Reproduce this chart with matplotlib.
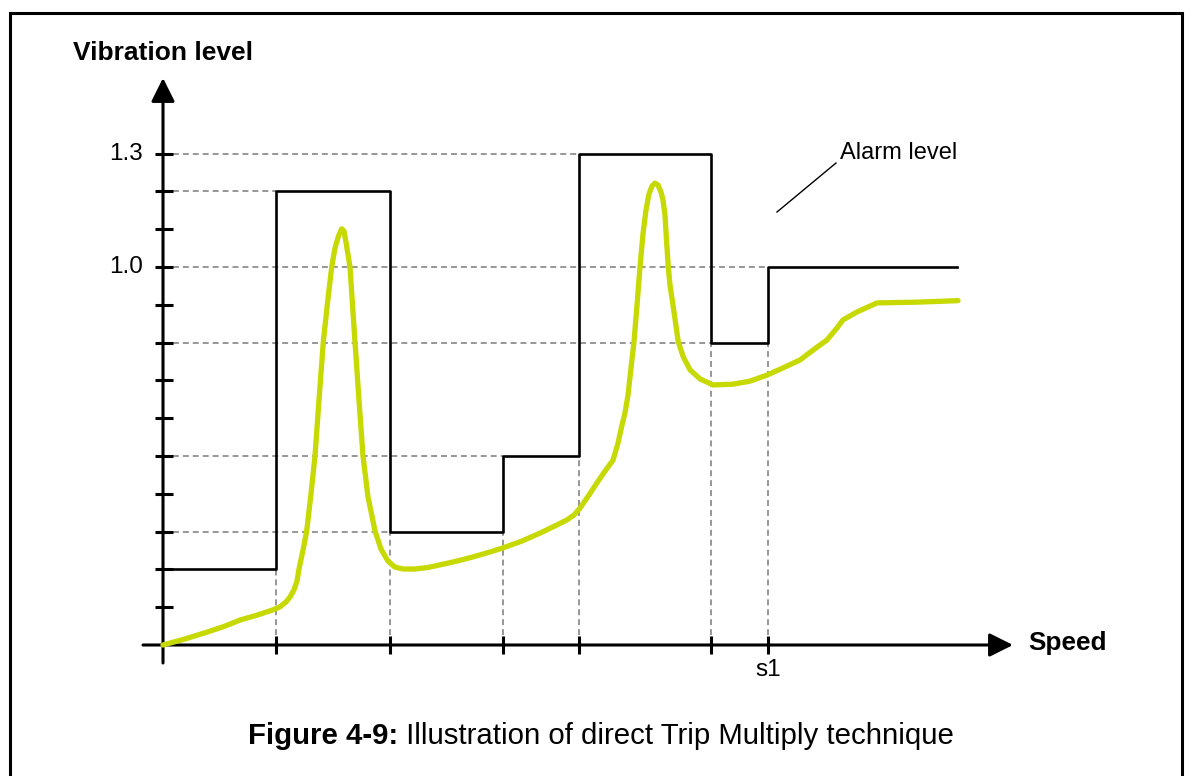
import matplotlib
matplotlib.use("Agg")
import matplotlib.pyplot as plt
from matplotlib.patches import Rectangle, ArrowStyle

plt.rcParams['font.family'] = ['Liberation Sans', 'DejaVu Sans']

# Speed breakpoints of the alarm-level profile and the level that starts at each
speed_breaks = [0, 3, 6, 9, 11, 14.5, 16, 21]
alarm_levels = [0.2, 1.2, 0.3, 0.5, 1.3, 0.8, 1.0, 1.0]

# Measured vibration level versus speed
vib_speed = [0.000, 0.582, 1.164, 1.640, 2.037, 2.487, 2.910, 3.095, 3.254,
             3.360, 3.466, 3.545, 3.598, 3.704, 3.802, 3.915, 4.021, 4.127,
             4.241, 4.352, 4.463, 4.550, 4.643, 4.728, 4.788, 4.854, 4.947,
             5.079, 5.185, 5.291, 5.423, 5.608, 5.767, 5.952, 6.138, 6.349,
             6.667, 7.011, 7.328, 7.778, 8.201, 8.651, 8.995, 9.497, 9.974,
             10.370, 10.688, 10.873, 11.032, 11.270, 11.481, 11.693, 11.905,
             12.037, 12.143, 12.222, 12.302, 12.381, 12.460, 12.540, 12.619,
             12.698, 12.778, 12.857, 12.937, 13.016, 13.095, 13.175, 13.228,
             13.280, 13.320, 13.368, 13.413, 13.500, 13.632, 13.765, 13.942,
             14.206, 14.550, 15.079, 15.529, 15.979, 16.402, 16.852, 17.196,
             17.566, 17.831, 17.989, 18.360, 18.889, 19.418, 19.947, 20.503,
             21.032]
vib_level = [0.000, 0.016, 0.034, 0.050, 0.066, 0.079, 0.093, 0.101, 0.114,
             0.127, 0.146, 0.169, 0.201, 0.251, 0.302, 0.399, 0.500, 0.648,
             0.802, 0.905, 1.000, 1.050, 1.082, 1.101, 1.095, 1.058, 1.000,
             0.802, 0.648, 0.500, 0.392, 0.302, 0.254, 0.222, 0.206, 0.201,
             0.201, 0.205, 0.212, 0.222, 0.233, 0.246, 0.257, 0.275, 0.296,
             0.315, 0.331, 0.344, 0.362, 0.397, 0.429, 0.460, 0.489,
             0.534, 0.582, 0.614, 0.661, 0.733, 0.802, 0.899, 1.000,
             1.087, 1.151, 1.193, 1.214, 1.222, 1.217, 1.198, 1.177,
             1.138, 1.071, 1.000, 0.952, 0.894, 0.802, 0.762, 0.728,
             0.704, 0.688, 0.690, 0.698, 0.714, 0.733, 0.754, 0.780,
             0.807, 0.839, 0.860, 0.881, 0.905, 0.906, 0.907, 0.909,
             0.911]

y_ticks = [0.1 * i for i in range(1, 14)]
y_tick_labels = {1.3: "1.3", 1.0: "1.0"}
s1_speed = 16

W, H, DPI = 1193, 776, 100
fig = plt.figure(figsize=(W / DPI, H / DPI), dpi=DPI)
ax = fig.add_axes([0, 0, 1, 1])
# data units: 37.8 px per speed unit, 378 px per vibration unit, origin at (163, 645) px
ax.set_xlim((0 - 163) / 37.8, (W - 163) / 37.8)
ax.set_ylim((645 - H) / 378, 645 / 378)
ax.axis('off')

# frame around the figure
fig.patches.append(Rectangle((9.7 / W, -0.05), (1181.7 - 9.7) / W, 1.05 - 12.8 / H,
                             transform=fig.transFigure, fill=False,
                             edgecolor='black', lw=2.2))

dash = dict(color='#7a7a7a', lw=1.1, linestyle=(0, (3.9, 2.6)))

# guide lines from each alarm step to the axes
for i in range(1, len(speed_breaks) - 1):
    x0 = speed_breaks[i]
    lvl = alarm_levels[i]
    ax.plot([0, x0], [lvl, lvl], **dash, zorder=1)
    low = min(alarm_levels[i - 1], alarm_levels[i])
    ax.plot([x0, x0], [0, low], **dash, zorder=1)

# axes with arrows
head = ArrowStyle('-|>', head_length=1.0, head_width=0.5)
ax.annotate('', xy=(0, (645 - 78) / 378), xytext=(0, (645 - 663) / 378),
            arrowprops=dict(arrowstyle=head, mutation_scale=14.4, lw=2.2,
                            color='black', shrinkA=0, shrinkB=0), zorder=4)
ax.annotate('', xy=((1013 - 163) / 37.8, 0), xytext=((143 - 163) / 37.8, 0),
            arrowprops=dict(arrowstyle=head, mutation_scale=14.4, lw=2.2,
                            color='black', shrinkA=0, shrinkB=0), zorder=4)

# tick marks
for yt in y_ticks:
    ax.plot([-8 / 37.8, 10 / 37.8], [yt, yt], color='black', lw=2.2,
            solid_capstyle='butt', zorder=4)
for xt in speed_breaks[1:-1]:
    ax.plot([xt, xt], [-9 / 378, 9 / 378], color='black', lw=2.2,
            solid_capstyle='butt', zorder=4)

for val, lab in y_tick_labels.items():
    ax.text(-20 / 37.8, val, lab, ha='right', va='center', fontsize=17.5)
ax.text(s1_speed, -25 / 378, "s1", ha='center', va='center', fontsize=17.5)

# alarm level profile
ax.step(speed_breaks, alarm_levels, where='post', color='black', lw=1.9,
        zorder=3)

# vibration curve
ax.plot(vib_speed, vib_level, color='#c6d900', lw=3.8,
        solid_joinstyle='round', solid_capstyle='round', zorder=5)

# labels
ax.text((73 - 163) / 37.8, (645 - 53) / 378, "Vibration level",
        ha='left', va='center', fontsize=19, fontweight='bold')
ax.text((1028 - 163) / 37.8, (645 - 643) / 378, "Speed",
        ha='left', va='center', fontsize=18.8, fontweight='bold')
ax.text((840 - 163) / 37.8, (645 - 153) / 378, "Alarm level",
        ha='left', va='center', fontsize=17)
ax.plot([(777 - 163) / 37.8, (836 - 163) / 37.8],
        [(645 - 212) / 378, (645 - 163) / 378], color='black', lw=1.0)

cap1 = fig.text(248 / W, 1 - 733 / H, "Figure 4-9:", ha='left',
                va='center_baseline', fontsize=21.15, fontweight='bold')
fig.canvas.draw()
bb = cap1.get_window_extent()
fig.text(bb.x1 / W, 1 - 733 / H, " Illustration of direct Trip Multiply technique",
         ha='left', va='center_baseline', fontsize=21.15)

fig.savefig("out.png", dpi=DPI)
